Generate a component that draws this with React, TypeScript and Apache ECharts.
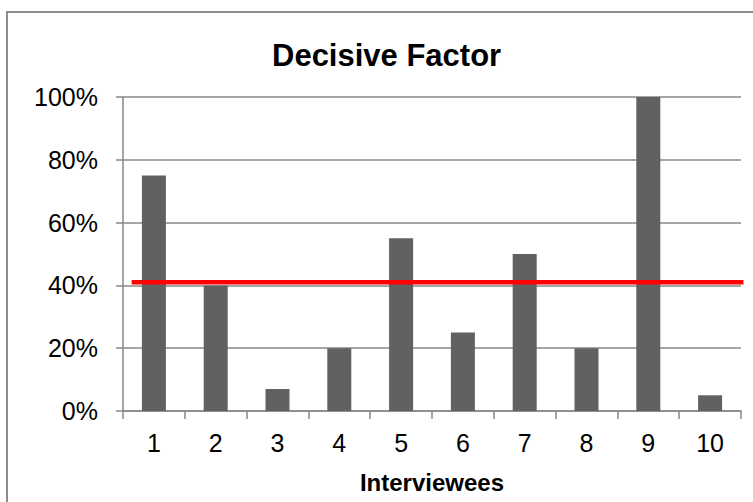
import React, { useEffect, useRef } from "react";
import * as echarts from "echarts";

const categories = ["1", "2", "3", "4", "5", "6", "7", "8", "9", "10"];
const decisiveValues = [0.75, 0.4, 0.07, 0.2, 0.55, 0.25, 0.5, 0.2, 1.0, 0.05];
const averageValue = 0.41;
const averageSpan = [0.14, 10.04];
const yTicks = [0, 0.2, 0.4, 0.6, 0.8, 1.0];

export default function App() {
  const ref = useRef<HTMLDivElement>(null);
  useEffect(() => {
    if (!ref.current) return;
    const chart = echarts.init(ref.current, undefined, { renderer: "svg" });
    const font = "'Liberation Sans', Arial, sans-serif";
    const axisGray = "#888888";
    chart.setOption({
      animation: false,
      backgroundColor: "#ffffff",
      title: {
        text: "Decisive Factor",
        left: 267,
        top: 35,
        textStyle: { fontFamily: font, fontSize: 31, fontWeight: "bold", color: "#000" },
      },
      graphic: [
        {
          type: "rect",
          shape: { x: 7, y: 12, width: 800, height: 600 },
          style: { fill: "none", stroke: "#8c8c8c", lineWidth: 2 },
          silent: true,
        },
      ],
      grid: { left: 123, right: 12, top: 97, bottom: 91, containLabel: false },
      xAxis: [
        {
          type: "category",
          data: categories,
          boundaryGap: true,
          name: "Interviewees",
          nameLocation: "middle",
          nameGap: 59,
          nameTextStyle: { fontFamily: font, fontSize: 24, fontWeight: "bold", color: "#000" },
          axisLine: { lineStyle: { color: axisGray, width: 1.5 } },
          axisTick: { show: true, length: 8, lineStyle: { color: axisGray, width: 1.5 } },
          axisLabel: { fontFamily: font, fontSize: 25, color: "#000", margin: 19 },
          splitLine: { show: false },
        },
        {
          type: "value",
          min: 0,
          max: 10,
          show: false,
        },
      ],
      yAxis: {
        type: "value",
        min: yTicks[0],
        max: yTicks[yTicks.length - 1],
        interval: 0.2,
        axisLine: { show: true, lineStyle: { color: axisGray, width: 1.5 } },
        axisTick: { show: true, length: 7, lineStyle: { color: axisGray, width: 1.5 } },
        axisLabel: {
          fontFamily: font,
          fontSize: 25,
          color: "#000",
          margin: 25,
          formatter: (v: number) => Math.round(v * 100) + "%",
        },
        splitLine: { show: true, lineStyle: { color: axisGray, width: 1.5 } },
      },
      series: [
        {
          type: "bar",
          data: decisiveValues,
          barWidth: 24,
          itemStyle: { color: "#616161" },
          xAxisIndex: 0,
        },
        {
          type: "line",
          xAxisIndex: 1,
          data: [
            [averageSpan[0], averageValue],
            [averageSpan[1], averageValue],
          ],
          symbol: "none",
          clip: false,
          lineStyle: { color: "#ff0000", width: 4.5 },
          z: 5,
        },
      ],
    });
    return () => chart.dispose();
  }, []);
  return (
    <div
      ref={ref}
      style={{ position: "absolute", left: 0, top: 0, width: 753, height: 502 }}
    />
  );
}
